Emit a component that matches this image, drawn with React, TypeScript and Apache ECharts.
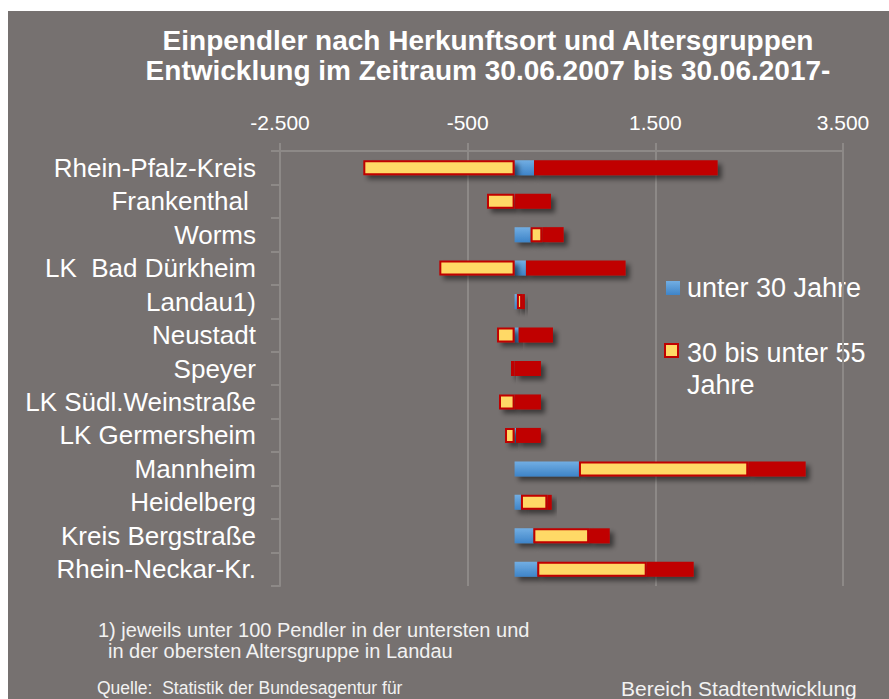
import React, { useEffect, useRef } from "react";
import * as echarts from "echarts";

const categories = [
  "Rhein-Pfalz-Kreis",
  "Frankenthal ",
  "Worms",
  "LK  Bad Dürkheim",
  "Landau1)",
  "Neustadt",
  "Speyer",
  "LK Südl.Weinstraße",
  "LK Germersheim",
  "Mannheim",
  "Heidelberg",
  "Kreis Bergstraße",
  "Rhein-Neckar-Kr.",
];
const unter30 = [207, 5, 171, 121, 25, 43, 0, 0, 15, 686, 68, 200, 242];
const bis55 = [-1612, -294, 124, -802, 55, -187, -38, -166, -102, 1804, 281, 594, 1166];
const ab55 = [1957, 383, 228, 1062, 30, 366, 281, 281, 265, 612, 47, 220, 501];
const seriesNames = ["unter 30 Jahre", "30 bis unter 55 Jahre", "55 Jahre und älter"];
const titleLines = [
  "Einpendler nach Herkunftsort und Altersgruppen",
  "Entwicklung im Zeitraum 30.06.2007 bis 30.06.2017-",
];
const notes = [
  "1) jeweils unter 100 Pendler in der untersten und",
  "in der obersten Altersgruppe in Landau",
  "Quelle:  Statistik der Bundesagentur für",
  "Bereich Stadtentwicklung",
];

const FONT = "'Liberation Sans', Arial, sans-serif";
const GRID = "#8d8987";
const BG = "#767170";

const fmt = (v: number) => {
  const s = Math.abs(v).toString().replace(/\B(?=(\d{3})+(?!\d))/g, ".");
  return (v < 0 ? "-" : "") + s;
};

const blueGrad = () =>
  new echarts.graphic.LinearGradient(0, 0, 0, 1, [
    { offset: 0, color: "#72aee3" },
    { offset: 1, color: "#3e84c8" },
  ]);

const shadow = {
  shadowColor: "rgba(0,0,0,0.5)",
  shadowBlur: 5,
  shadowOffsetX: 4,
  shadowOffsetY: 4,
};

export default function App() {
  const ref = useRef<HTMLDivElement>(null);
  useEffect(() => {
    if (!ref.current) return;
    const chart = echarts.init(ref.current, undefined, { renderer: "svg" });
    const txt = (text: string, x: number, y: number, size: number, extra: any = {}) => ({
      type: "text",
      x,
      y,
      silent: true,
      style: {
        text,
        fill: "#ffffff",
        fontSize: size,
        fontFamily: FONT,
        textVerticalAlign: "middle",
        ...extra,
      },
    });
    chart.setOption({
      animation: false,
      backgroundColor: BG,
      textStyle: { fontFamily: FONT },
      grid: { left: 272, right: 46, top: 140, bottom: 113, containLabel: false },
      xAxis: {
        type: "value",
        position: "top",
        min: -2500,
        max: 3500,
        interval: 2000,
        axisLine: { show: true, lineStyle: { color: GRID, width: 2 } },
        axisTick: { show: true, length: 8, lineStyle: { color: GRID, width: 2 } },
        splitLine: { show: true, lineStyle: { color: GRID, width: 2 } },
        axisLabel: { color: "#ffffff", fontSize: 21, margin: 18, formatter: fmt, fontFamily: FONT },
      },
      yAxis: [
        {
          type: "category",
          inverse: true,
          data: categories,
          axisLine: { show: false },
          axisTick: { show: false },
          axisLabel: {
            color: "#ffffff",
            fontSize: 26,
            margin: 24,
            fontFamily: FONT,
            interval: 0,
            hideOverlap: false,
          },
        },
        {
          type: "category",
          inverse: true,
          position: "left",
          data: categories,
          axisLine: { show: true, onZero: true, lineStyle: { color: GRID, width: 2 } },
          axisTick: { show: true, interval: 0, length: 9, lineStyle: { color: GRID, width: 2 } },
          axisLabel: { show: false },
        },
      ],
      series: [
        {
          name: seriesNames[0],
          type: "bar",
          stack: "total",
          barWidth: 15,
          data: unter30,
          itemStyle: { color: blueGrad(), ...shadow },
        },
        {
          name: seriesNames[1],
          type: "bar",
          stack: "total",
          barWidth: 15,
          data: bis55,
          itemStyle: { color: "#ffd966", borderColor: "#c00000", borderWidth: 2, ...shadow },
        },
        {
          name: seriesNames[2],
          type: "bar",
          stack: "total",
          barWidth: 15,
          data: ab55,
          itemStyle: { color: "#c00000", ...shadow },
        },
      ],
      graphic: [
        txt(titleLines[0], 480, 29, 28, { textAlign: "center", fontWeight: "bold" }),
        txt(titleLines[1], 480, 59, 28, { textAlign: "center", fontWeight: "bold" }),
        {
          type: "rect",
          shape: { x: 658, y: 270, width: 14, height: 14 },
          style: { fill: blueGrad() },
        },
        txt(seriesNames[0], 679, 277, 27),
        {
          type: "rect",
          shape: { x: 657, y: 333, width: 13, height: 13 },
          style: { fill: "#ffd966", stroke: "#c00000", lineWidth: 2 },
        },
        txt("30 bis unter 55", 679, 342, 27),
        txt("Jahre", 679, 374, 27),
        txt(notes[0], 90, 619, 20, { fill: "#f2f2f2" }),
        txt(notes[1], 100, 640, 20, { fill: "#f2f2f2" }),
        txt(notes[2], 89, 677, 17.5, { fill: "#f2f2f2" }),
        txt(notes[3], 613, 677, 21, { fill: "#f2f2f2" }),
      ],
    });
    return () => chart.dispose();
  }, []);
  return (
    <div
      ref={ref}
      style={{ position: "absolute", left: 8, top: 11, width: 881, height: 688 }}
    />
  );
}
